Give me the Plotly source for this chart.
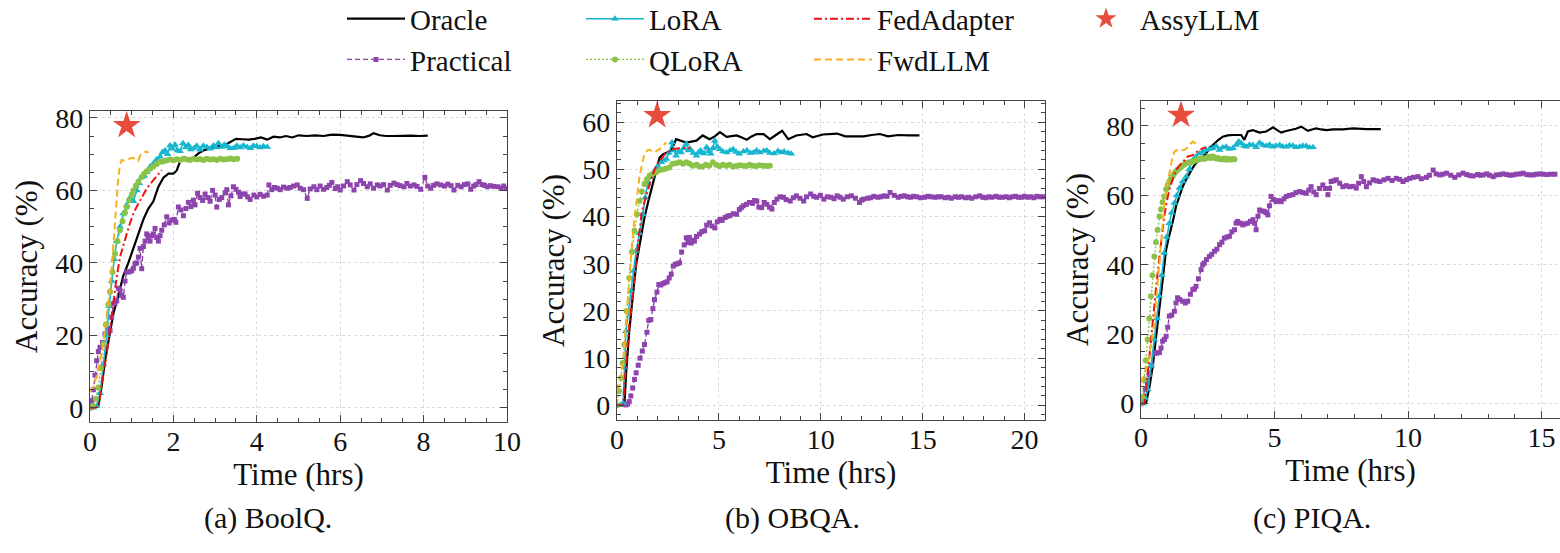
import plotly.graph_objects as go

W, H = 1560, 553

# ---------------- data (time in hrs, accuracy in %) ----------------
SERIES = ["Oracle", "Practical", "LoRA", "QLoRA", "FedAdapter", "FwdLLM"]

# (a) BoolQ
ORACLE_A = [(0,0),(0.1,0),(0.2,0.5),(0.28,6),(0.36,13),(0.46,20),(0.56,26),(0.68,31),(0.8,36.5),(0.92,40),(1.04,44),(1.16,48),(1.28,52),(1.4,55),(1.52,57),(1.64,61),(1.76,63.5),(1.88,64.6),(2.0,64.6),(2.08,65.5),(2.16,68),(2.26,69.2),(2.36,68.6),(2.48,69),(2.6,70.2),(2.72,71),(2.84,71.4),(2.96,72),(3.1,72.3),(3.25,72.6),(3.4,73.6),(3.5,74.2),(3.65,74.1),(3.8,74),(3.95,74.2),(4.1,74.6),(4.25,74),(4.4,74.8),(4.55,74.6),(4.7,75),(4.85,74.6),(5.0,75.2),(5.2,75),(5.4,75.2),(5.6,75),(5.8,75.4),(6.0,75.3),(6.2,75),(6.4,74.8),(6.55,74.6),(6.7,75.1),(6.8,75.8),(6.95,75.2),(7.1,75),(7.3,75),(7.5,75.1),(7.7,75.1),(7.9,75),(8.1,75.1)]
PRACTICAL_A = [(0,0),(0.04,2),(0.08,5),(0.12,9),(0.16,13),(0.2,15.5),(0.24,16.7),(0.3,18),(0.36,20.4),(0.42,22),(0.48,21.3),(0.52,25),(0.56,28.7),(0.6,29),(0.64,29.6),(0.68,33),(0.72,32.4),(0.76,31),(0.8,30.5),(0.84,35),(0.88,37.5),(0.94,37.5),(1.0,37.8),(1.04,38.5),(1.08,39.8),(1.12,40),(1.16,41.6),(1.2,44),(1.24,38.4),(1.28,44.5),(1.32,46),(1.36,48),(1.4,47),(1.44,46),(1.48,47.5),(1.52,48),(1.56,49.5),(1.6,47),(1.64,46),(1.68,47.5),(1.72,49),(1.78,50.5),(1.84,52.7),(1.9,51),(1.96,51.8),(2.02,52),(2.06,51.2),(2.12,55.4),(2.18,54.6),(2.24,53),(2.3,55),(2.36,56.7),(2.42,55.5),(2.48,57.3),(2.52,56),(2.58,59.2),(2.64,58),(2.7,57.2),(2.76,59),(2.82,58),(2.88,57),(2.94,60),(3.0,58.7),(3.04,55.4),(3.1,57.5),(3.16,58),(3.24,59.3),(3.28,60.2),(3.32,56),(3.38,58.5),(3.44,61),(3.5,60.3),(3.56,59.5),(3.6,58.3),(3.66,59),(3.72,59),(3.78,58.2),(3.84,57.5),(3.93,58.7),(4.0,58.2),(4.08,58.9),(4.16,58.4),(4.25,58.7),(4.29,61.5),(4.36,60.2),(4.42,60.8),(4.49,60.6),(4.56,60.2),(4.64,60.9),(4.73,60.6),(4.8,60.8),(4.88,61.2),(4.97,61.5),(5.04,60.6),(5.12,60.2),(5.21,57.8),(5.28,60.4),(5.37,61),(5.44,60.2),(5.52,61.2),(5.6,60.3),(5.68,60.8),(5.74,61.4),(5.8,62.2),(5.88,60.5),(5.94,61),(6.0,60.1),(6.08,61.2),(6.17,62.4),(6.24,61.5),(6.33,60.1),(6.4,61.6),(6.49,62.7),(6.56,61.9),(6.65,61),(6.72,61.8),(6.8,60.6),(6.89,61.5),(6.96,61.2),(7.04,61.6),(7.13,60.1),(7.2,61.4),(7.29,62),(7.36,61.6),(7.44,61.3),(7.53,61),(7.6,61.9),(7.68,61.2),(7.77,61.5),(7.84,61.1),(7.93,60.3),(8.03,63.6),(8.1,61.2),(8.17,60.6),(8.24,61.4),(8.32,61.8),(8.41,61.5),(8.5,61.2),(8.58,61.7),(8.66,61.3),(8.73,60.1),(8.82,61.4),(8.9,61),(8.98,61.6),(9.06,61.8),(9.13,60.3),(9.2,61.2),(9.26,61.6),(9.33,62.4),(9.4,61.6),(9.46,61.4),(9.53,61),(9.6,61.3),(9.68,61.1),(9.78,61),(9.86,60.6),(9.92,61.2),(9.98,60.5)]
LORA_A = [(0,0),(0.08,0),(0.16,0.5),(0.24,4),(0.32,12),(0.4,20),(0.46,28),(0.52,35),(0.58,41),(0.64,46),(0.72,50),(0.8,53.6),(0.88,56),(0.96,58),(1.04,57),(1.12,60),(1.18,62),(1.24,63.7),(1.3,64),(1.36,65),(1.44,66.5),(1.52,67.4),(1.6,68.5),(1.68,69.3),(1.74,70.5),(1.8,71),(1.86,70),(1.92,72.4),(1.98,71.5),(2.04,72.6),(2.1,71),(2.16,70.8),(2.23,73),(2.3,71.8),(2.36,72.5),(2.42,71.3),(2.5,71.7),(2.56,72.3),(2.64,71.2),(2.72,72.3),(2.8,72),(2.88,71.5),(2.96,72.4),(3.02,71.8),(3.08,73),(3.16,72),(3.22,72.6),(3.29,72.2),(3.36,71.6),(3.45,71.7),(3.52,72.3),(3.6,71.8),(3.68,72.4),(3.77,72),(3.85,71.6),(3.92,72.3),(4.0,72.2),(4.08,71.8),(4.16,72.2),(4.25,72)]
QLORA_A = [(0,0),(0.08,0.5),(0.14,2.5),(0.2,5.6),(0.26,11),(0.32,17.6),(0.38,23),(0.44,28.5),(0.48,32),(0.54,37.5),(0.6,42.5),(0.66,46),(0.72,49),(0.78,51.5),(0.84,53.8),(0.88,55.4),(0.94,57.3),(1.0,58.8),(1.04,60),(1.1,61.3),(1.16,62.4),(1.24,63.7),(1.3,64.6),(1.36,65.3),(1.44,66),(1.52,66.6),(1.6,67.3),(1.68,67.9),(1.76,68),(1.84,68.3),(1.92,68.5),(2.0,68.3),(2.08,68.6),(2.16,68.4),(2.24,68.7),(2.32,68.5),(2.4,68.4),(2.48,68.7),(2.56,68.5),(2.64,68.6),(2.72,68.4),(2.8,68.7),(2.88,68.5),(2.96,68.6),(3.04,68.4),(3.12,68.7),(3.2,68.5),(3.28,68.6),(3.36,68.8),(3.44,68.6),(3.53,68.7)]
FEDADAPTER_A = [(0,0),(0.1,0),(0.18,0.3),(0.22,1.5),(0.3,8),(0.4,14.9),(0.48,22),(0.56,29.6),(0.64,36),(0.72,41.6),(0.8,45),(0.88,48),(0.96,51),(1.04,53.6),(1.12,55.5),(1.2,57.3),(1.28,59),(1.36,60.5),(1.46,62),(1.56,63.3),(1.64,64.5),(1.72,65.6)]
FWDLLM_A = [(0,4.5),(0.08,5.6),(0.16,9),(0.24,13),(0.32,18),(0.4,25),(0.46,31),(0.52,38.8),(0.56,45),(0.6,52.7),(0.64,58),(0.68,63.7),(0.72,67),(0.76,68.4),(0.82,68.2),(0.88,68.5),(0.96,68.8),(1.04,69),(1.1,68.6),(1.16,68.2),(1.2,69.5),(1.24,70.2),(1.3,70.5),(1.36,70.7),(1.4,70.3)]
ASSY_A = [(0.88, 77.9)]

# (b) OBQA
ORACLE_B = [(0,0),(0.2,0),(0.36,0),(0.45,7),(0.6,15.7),(0.77,23),(0.94,29.9),(1.15,35),(1.35,39.8),(1.55,43.5),(1.76,46.9),(1.92,50),(2.09,52.5),(2.25,53.2),(2.42,53.6),(2.66,54),(2.9,56.4),(3.15,56),(3.4,55.7),(3.65,55.9),(3.9,56.1),(4.2,57.2),(4.54,56.4),(4.8,57),(5.05,57.9),(5.38,56.9),(5.6,57),(5.87,57.2),(6.1,56.8),(6.37,56.3),(6.6,57),(6.86,57.5),(7.19,57.5),(7.5,56.4),(7.8,57.3),(8.1,58.2),(8.4,56.4),(8.8,57.2),(9.3,57.5),(9.6,56.8),(10.1,57.4),(10.5,57.5),(10.8,57.6),(11.2,57),(11.7,57),(12.1,57),(12.5,57.3),(12.9,57.5),(13.3,57),(13.8,57.3),(14.3,57.2),(14.84,57.2)]
PRACTICAL_B = [(0.44,0.1),(0.52,0.3),(0.6,0.8),(0.68,2),(0.77,3.7),(0.86,5.5),(0.94,6.9),(1.04,8.5),(1.13,10),(1.24,11.5),(1.35,12.9),(1.47,15.5),(1.56,18),(1.66,18.2),(1.76,20.5),(1.84,22.4),(1.96,24),(2.05,25.6),(2.15,25.5),(2.25,25.8),(2.35,26),(2.46,26.2),(2.56,27),(2.66,27.8),(2.76,29.5),(2.86,29.9),(2.96,30),(3.07,30.2),(3.17,32.5),(3.3,34),(3.4,35.5),(3.48,34.5),(3.55,35.6),(3.64,34.4),(3.72,35),(3.8,34.8),(3.9,35.8),(4.05,36.3),(4.16,36.8),(4.3,37),(4.4,38.2),(4.54,38.7),(4.66,38),(4.8,37.6),(4.92,38.9),(5.05,39.4),(5.16,39.2),(5.3,39.8),(5.42,40.1),(5.54,40.2),(5.7,40.6),(5.87,40.5),(6.0,41.5),(6.1,41.9),(6.2,42.3),(6.35,42.6),(6.5,43),(6.65,42.8),(6.75,43.4),(6.86,43.3),(6.96,42),(7.1,41.9),(7.22,43),(7.35,42.6),(7.48,42),(7.6,41.6),(7.72,43),(7.85,43.7),(8.0,44.2),(8.17,44.1),(8.3,43.6),(8.5,43.3),(8.65,44),(8.8,44.4),(8.98,43.9),(9.16,43.3),(9.3,44.2),(9.5,44.8),(9.65,44.3),(9.8,44.1),(9.98,44.5),(10.15,43.7),(10.32,44.2),(10.5,44.1),(10.65,43.8),(10.8,44.4),(10.95,44.1),(11.1,43.7),(11.3,44.2),(11.5,44.4),(11.7,43.9),(11.9,43),(12.0,43.5),(12.1,43.7),(12.3,43.9),(12.45,44),(12.6,44.3),(12.8,44.1),(12.95,44.2),(13.1,44.4),(13.25,44.3),(13.4,45.1),(13.6,44.5),(13.8,44.1),(13.95,44.3),(14.1,44.4),(14.25,44.2),(14.4,44.1),(14.55,44.3),(14.7,44.2),(14.9,44),(15.1,44.1),(15.25,44.3),(15.4,44.2),(15.6,44.1),(15.75,44.2),(15.9,44.2),(16.1,44),(16.25,44.1),(16.4,43.9),(16.6,44.2),(16.75,44.1),(16.9,44.2),(17.1,44),(17.25,44.1),(17.4,43.9),(17.6,44.2),(17.8,44.4),(17.95,44.1),(18.1,44),(18.25,44.2),(18.4,44.1),(18.6,44.3),(18.75,44.1),(18.9,44.1),(19.1,44.2),(19.25,44),(19.4,44.2),(19.55,44.3),(19.7,44.1),(19.85,44.1),(20.0,44.3),(20.15,44.1),(20.3,44.2),(20.45,44),(20.6,44.3),(20.75,44.2),(20.9,44.2)]
LORA_B = [(0,0),(0.15,0),(0.3,0.5),(0.38,8),(0.44,15.7),(0.56,20),(0.69,24.2),(0.81,28.5),(0.94,32.7),(1.1,36.5),(1.27,40.5),(1.38,44),(1.5,46.9),(1.67,48.5),(1.84,49.7),(2.0,50.7),(2.17,51.5),(2.3,51.9),(2.42,52.2),(2.55,53.5),(2.7,55.7),(2.8,54),(2.9,52.9),(3.02,53.8),(3.14,53.6),(3.27,54.5),(3.4,55.4),(3.5,54),(3.6,54.3),(3.75,53.5),(3.9,52.9),(4.0,53.6),(4.1,54),(4.25,53.4),(4.4,54.7),(4.5,53.8),(4.6,53.3),(4.7,54.5),(4.8,56.1),(4.92,54.8),(5.05,54.3),(5.2,53.8),(5.38,53.6),(5.55,54),(5.7,54.3),(5.85,53.7),(6.0,53.3),(6.2,53.8),(6.37,54),(6.55,53.5),(6.7,53.6),(6.85,54),(7.0,53.6),(7.2,53.9),(7.35,54),(7.5,53.5),(7.7,53.4),(7.9,53.9),(8.05,53.6),(8.2,53.8),(8.4,53.5),(8.55,53.3)]
QLORA_B = [(0,0),(0.1,3),(0.2,5.8),(0.28,9),(0.36,12.9),(0.48,20),(0.6,27),(0.73,32.5),(0.86,37),(0.98,40.5),(1.1,43.3),(1.22,45.3),(1.35,46.9),(1.47,47.9),(1.6,48.7),(1.76,49.1),(1.92,49.4),(2.08,49.8),(2.25,50),(2.4,50.2),(2.57,50.4),(2.72,51.2),(2.9,51.3),(3.07,51.5),(3.24,51.2),(3.4,51.5),(3.56,51.2),(3.72,50.8),(3.9,51),(4.05,50.6),(4.2,50.6),(4.36,51),(4.52,50.8),(4.7,51.5),(4.86,51),(5.03,50.7),(5.2,51),(5.36,50.8),(5.52,51),(5.7,50.6),(5.87,50.7),(6.03,50.9),(6.2,50.8),(6.36,50.7),(6.5,51),(6.66,50.8),(6.83,50.7),(7.0,50.9),(7.17,50.8),(7.33,50.7),(7.5,50.8)]
FEDADAPTER_B = [(0,0),(0.15,0),(0.3,0),(0.36,4),(0.46,10),(0.6,17),(0.72,21.5),(0.84,26.5),(0.96,31.3),(1.08,36),(1.2,40.6),(1.37,43.5),(1.54,46.2),(1.74,48.8),(1.94,50.9),(2.15,52.2),(2.36,53.3),(2.6,53.9),(2.85,54.4),(3.1,54.5),(3.3,54.5),(3.5,54.6),(3.6,54.6)]
FWDLLM_B = [(0,3),(0.1,5),(0.2,6),(0.3,9),(0.36,12.9),(0.48,20),(0.6,27),(0.73,34),(0.86,39.8),(0.98,44.5),(1.1,48.3),(1.22,51),(1.35,53.3),(1.48,54),(1.6,54.2),(1.72,53.8),(1.84,53.6),(1.96,54),(2.09,54.3),(2.25,55),(2.42,55.7)]
ASSY_B = [(1.97, 61.4)]

# (c) PIQA
ORACLE_C = [(0,0),(0.1,0),(0.2,0.5),(0.32,5),(0.44,10.8),(0.56,19),(0.69,28),(0.81,36),(0.94,44.3),(1.03,47.5),(1.12,50),(1.22,53.5),(1.31,56.8),(1.44,60),(1.56,62.5),(1.69,64.6),(1.81,66.4),(1.94,68),(2.06,69.3),(2.25,70.8),(2.44,72.1),(2.56,73.5),(2.69,74.5),(2.87,75.8),(3.06,76.9),(3.25,77.3),(3.44,77.4),(3.6,77.4),(3.75,77.4),(3.87,76),(4.0,78.4),(4.19,78.8),(4.44,78.1),(4.69,78.4),(4.94,79.6),(5.1,78.8),(5.25,78.1),(5.4,78.5),(5.56,78.8),(5.8,79.2),(6.0,79.8),(6.25,78.6),(6.4,79),(6.56,79.3),(6.75,79),(6.94,78.8),(7.2,79),(7.56,79),(7.94,79.3),(8.2,79.1),(8.44,79.1),(8.7,79.1),(8.98,79.1)]
PRACTICAL_C = [(0,0),(0.08,2),(0.16,4),(0.24,6),(0.31,8.4),(0.4,11),(0.5,14.7),(0.58,14.5),(0.69,14.7),(0.75,16),(0.81,18),(0.88,18.5),(0.94,19.4),(1.0,22),(1.06,25.2),(1.15,25.5),(1.25,26.6),(1.31,29),(1.37,30.5),(1.45,30),(1.56,29.5),(1.66,29),(1.75,29.5),(1.85,31.5),(1.94,32.9),(2.0,33),(2.06,33.8),(2.15,36),(2.25,38.6),(2.31,40),(2.37,40.5),(2.45,41.5),(2.56,42.4),(2.65,43),(2.75,43.9),(2.84,44.5),(2.94,45.8),(3.03,46.5),(3.12,47.7),(3.22,48),(3.31,48.2),(3.4,49.5),(3.5,50.1),(3.56,52),(3.62,52.5),(3.72,52),(3.81,51.5),(3.9,51.8),(4.0,52),(4.1,52.5),(4.19,53),(4.25,52),(4.31,50.1),(4.38,54),(4.44,55.8),(4.53,55.5),(4.62,55.4),(4.68,55),(4.75,54.4),(4.81,57),(4.87,59.7),(4.96,58.8),(5.06,58.2),(5.15,58.5),(5.25,58.2),(5.35,59),(5.44,59.7),(5.56,60),(5.69,60.2),(5.8,60.8),(5.94,61.1),(6.06,60.8),(6.19,60.6),(6.28,61.5),(6.37,62.5),(6.47,61),(6.56,60.2),(6.68,62),(6.81,63),(6.9,62),(7.0,60.2),(7.06,62),(7.12,64),(7.22,64.2),(7.31,64.5),(7.44,63.5),(7.56,62.5),(7.69,62.8),(7.81,62.5),(7.94,62.6),(8.06,62.1),(8.15,63.5),(8.25,65.4),(8.34,64),(8.44,62.5),(8.56,63.6),(8.69,64.5),(8.81,64.2),(8.94,64),(9.1,64.5),(9.25,64.9),(9.4,64.3),(9.56,64.9),(9.69,64.6),(9.81,64),(9.94,64.5),(10.06,64.9),(10.2,65.2),(10.37,65.4),(10.5,64.8),(10.69,65.2),(10.8,65.8),(10.94,67.3),(11.05,66.2),(11.19,65.9),(11.3,66.1),(11.44,66.4),(11.6,65.8),(11.75,65.2),(11.9,65.9),(12.06,66.4),(12.2,66),(12.32,65.7),(12.44,65.6),(12.6,66),(12.7,65.8),(12.81,65.9),(12.95,66.2),(13.05,65.8),(13.19,65.4),(13.3,65.9),(13.44,66),(13.56,66.2),(13.7,66),(13.82,65.8),(13.94,65.9),(14.06,66.1),(14.2,66.2),(14.31,66.4),(14.45,66),(14.56,65.9),(14.69,65.9),(14.8,66.1),(14.94,66.2),(15.06,66.1),(15.2,66),(15.35,66.1),(15.5,66.1)]
LORA_C = [(0,0),(0.08,0),(0.16,1.5),(0.25,4.1),(0.38,11),(0.5,18.5),(0.6,24.5),(0.69,30.9),(0.78,37),(0.87,43.4),(0.96,48),(1.06,52),(1.15,55),(1.25,57.8),(1.34,60),(1.44,62.1),(1.56,64),(1.69,65.4),(1.81,67.5),(1.94,70.2),(2.06,71.2),(2.19,72.1),(2.31,72.5),(2.44,73.1),(2.56,73.4),(2.69,73.6),(2.81,74.2),(2.94,73.1),(3.06,73.8),(3.19,74),(3.31,73.4),(3.44,73.6),(3.56,74.5),(3.66,75.5),(3.75,75),(3.85,74.3),(3.94,74),(4.06,74.6),(4.19,74.5),(4.31,73.9),(4.44,75.2),(4.56,74.5),(4.69,74.2),(4.81,74.6),(4.94,74),(5.06,74.3),(5.19,74.5),(5.31,74.1),(5.44,74),(5.56,74.4),(5.69,74.3),(5.81,73.9),(5.94,74),(6.06,74.3),(6.19,74.2),(6.31,73.8),(6.44,73.9)]
QLORA_C = [(0,0),(0.06,2),(0.12,7),(0.18,12.5),(0.25,18.5),(0.31,24.5),(0.37,30.9),(0.43,37),(0.5,42.4),(0.56,46.5),(0.62,50),(0.69,53.9),(0.75,56),(0.81,58),(0.87,59.7),(0.94,61.8),(1.0,63),(1.06,64),(1.12,64.8),(1.19,65.6),(1.25,66.4),(1.31,66.9),(1.37,67.4),(1.44,67.8),(1.5,68.2),(1.56,68.6),(1.62,68.9),(1.69,69.3),(1.75,69.4),(1.81,69.5),(1.87,69.6),(1.94,69.7),(2.0,70),(2.06,70.2),(2.12,70.3),(2.19,70.4),(2.25,70.6),(2.31,70.7),(2.37,70.5),(2.44,70.8),(2.5,70.9),(2.56,71.1),(2.62,70.8),(2.69,71.2),(2.75,70.9),(2.81,70.6),(2.87,70.8),(2.94,70.5),(3.0,70.4),(3.06,70.4),(3.12,70.6),(3.19,70.3),(3.25,70.5),(3.31,70.4),(3.37,70.3),(3.44,70.5),(3.5,70.4)]
FEDADAPTER_C = [(0,0),(0.12,0),(0.18,3),(0.25,8.9),(0.35,16),(0.44,23.3),(0.56,33),(0.69,42.4),(0.78,48.5),(0.87,53.9),(0.96,58),(1.06,61.6),(1.18,64.5),(1.31,67.3),(1.44,68.6),(1.56,69.7),(1.65,70.5),(1.75,71.2),(1.85,71.4),(1.94,71.6),(2.06,72.4),(2.19,73.1),(2.32,73.6),(2.44,73.9)]
FWDLLM_C = [(0,6),(0.12,8),(0.25,11.8),(0.38,17),(0.5,23.3),(0.6,32),(0.69,40.5),(0.78,48.5),(0.87,56.8),(0.96,62),(1.06,66.4),(1.15,70),(1.25,72.6),(1.34,73),(1.44,73.1),(1.53,73),(1.62,73.1),(1.7,73.5),(1.75,74),(1.85,74.8),(1.94,75.5),(2.03,75),(2.12,74.5)]
ASSY_C = [(1.5, 83.1)]

PANELS = [
    dict(cap="(a) BoolQ.", data=[ORACLE_A, PRACTICAL_A, LORA_A, QLORA_A, FEDADAPTER_A, FWDLLM_A], star=ASSY_A,
         xr=[0, 10], xd=2, xm=0.5, yr=[-3.9, 81.9], yd=20, ym=5, ymirror="allticks"),
    dict(cap="(b) OBQA.", data=[ORACLE_B, PRACTICAL_B, LORA_B, QLORA_B, FEDADAPTER_B, FWDLLM_B], star=ASSY_B,
         xr=[0, 21], xd=5, xm=1, yr=[-3.1, 64.5], yd=10, ym=2, ymirror="allticks"),
    dict(cap="(c) PIQA.", data=[ORACLE_C, PRACTICAL_C, LORA_C, QLORA_C, FEDADAPTER_C, FWDLLM_C], star=ASSY_C,
         xr=[0, 15.69], xd=5, xm=1, yr=[-4.15, 87.2], yd=20, ym=5, ymirror=False),
]

# ---------------- styling ----------------
FONT = '"Liberation Serif", "Times New Roman", Times, serif'
STYLE = {
    "Oracle":     dict(color="#000000", width=2.2, dash="solid", symbol=None, msize=0, legend="legend"),
    "Practical":  dict(color="#8E44AD", width=1.4, dash="5px,3px", symbol="square", msize=5, legend="legend"),
    "LoRA":       dict(color="#17B6CF", width=1.6, dash="solid", symbol="triangle-up", msize=7, legend="legend2"),
    "QLoRA":      dict(color="#8BC34A", width=1.4, dash="2px,2px", symbol="circle", msize=6, legend="legend2"),
    "FedAdapter": dict(color="#F01010", width=2.0, dash="8px,3px,2px,3px", symbol=None, msize=0, legend="legend3"),
    "FwdLLM":     dict(color="#F7B01E", width=2.0, dash="7px,4px", symbol=None, msize=0, legend="legend3"),
}
STAR_COLOR = "#E74C3C"

# pixel boxes of the three plot areas: (left, right, top, bottom)
BOXES = [(90, 507, 111, 422), (617, 1045, 101, 420), (1141, 1560, 101, 418)]
CAP_X = [268, 792, 1312]

fig = go.Figure()
for i, p in enumerate(PANELS):
    xa = "x" if i == 0 else f"x{i+1}"
    ya = "y" if i == 0 else f"y{i+1}"
    for name, series in zip(SERIES, p["data"]):
        st = STYLE[name]
        mode = "lines+markers" if st["symbol"] else "lines"
        kw = dict(marker=dict(symbol=st["symbol"], size=st["msize"], color=st["color"])) if st["symbol"] else {}
        fig.add_trace(go.Scatter(
            x=[a for a, b in series], y=[b for a, b in series], mode=mode, name=name,
            line=dict(color=st["color"], width=st["width"], dash=st["dash"]),
            xaxis=xa, yaxis=ya, legend=st["legend"], showlegend=(i == 0), **kw))
    fig.add_trace(go.Scatter(
        x=[a for a, b in p["star"]], y=[b for a, b in p["star"]], mode="markers", name="AssyLLM",
        marker=dict(symbol="star", size=21, color=STAR_COLOR, line=dict(width=0)),
        xaxis=xa, yaxis=ya, legend="legend4", showlegend=(i == 0)))

axis_common = dict(
    ticks="inside", ticklen=7, tickwidth=1, tickcolor="#444",
    showline=True, linecolor="#444", linewidth=1.2, mirror="allticks",
    showgrid=True, gridcolor="#dadada", griddash="dot", gridwidth=1,
    zeroline=False, automargin=True, tickfont=dict(family=FONT, size=28, color="#111"),
)
layout = {}
for i, p in enumerate(PANELS):
    l, r, t, b = BOXES[i]
    sx = "" if i == 0 else str(i + 1)
    layout[f"xaxis{sx}"] = dict(
        axis_common, domain=[l / W, r / W], anchor=f"y{sx}", range=p["xr"], tick0=0, dtick=p["xd"],
        ticklabelstandoff=-6,
        minor=dict(dtick=p["xm"], tick0=0, ticks="inside", ticklen=4, tickcolor="#444", showgrid=False),
        title=dict(text="Time (hrs)", font=dict(family=FONT, size=31, color="#111"), standoff=1))
    layout[f"yaxis{sx}"] = dict(
        axis_common, domain=[1 - b / H, 1 - t / H], anchor=f"x{sx}", range=p["yr"], tick0=0, dtick=p["yd"],
        mirror=p["ymirror"],
        minor=dict(dtick=p["ym"], tick0=0, ticks="inside", ticklen=4, tickcolor="#444", showgrid=False),
        title=dict(text="Accuracy (%)", font=dict(family=FONT, size=31, color="#111"), standoff=8))

leg_common = dict(orientation="v", xanchor="left", yanchor="top", y=1.012, bgcolor="rgba(0,0,0,0)",
                  font=dict(family=FONT, size=29, color="#111"), itemwidth=58, tracegroupgap=0)
layout["legend"] = dict(leg_common, x=342 / W)
layout["legend2"] = dict(leg_common, x=581 / W)
layout["legend3"] = dict(leg_common, x=809 / W)
layout["legend4"] = dict(leg_common, x=1072 / W)

fig.update_layout(
    width=W, height=H, margin=dict(l=0, r=0, t=0, b=0, autoexpand=False),
    paper_bgcolor="white", plot_bgcolor="white",
    font=dict(family=FONT, color="#111"),
    annotations=[dict(text=p["cap"], x=CAP_X[i] / W, y=1 - 518 / H, xref="paper", yref="paper",
                      showarrow=False, xanchor="center", yanchor="middle",
                      font=dict(family=FONT, size=30, color="#111")) for i, p in enumerate(PANELS)],
    **layout,
)

fig.write_html("out.html", config={"displayModeBar": False},
               post_script="document.body.style.margin='0px';")
